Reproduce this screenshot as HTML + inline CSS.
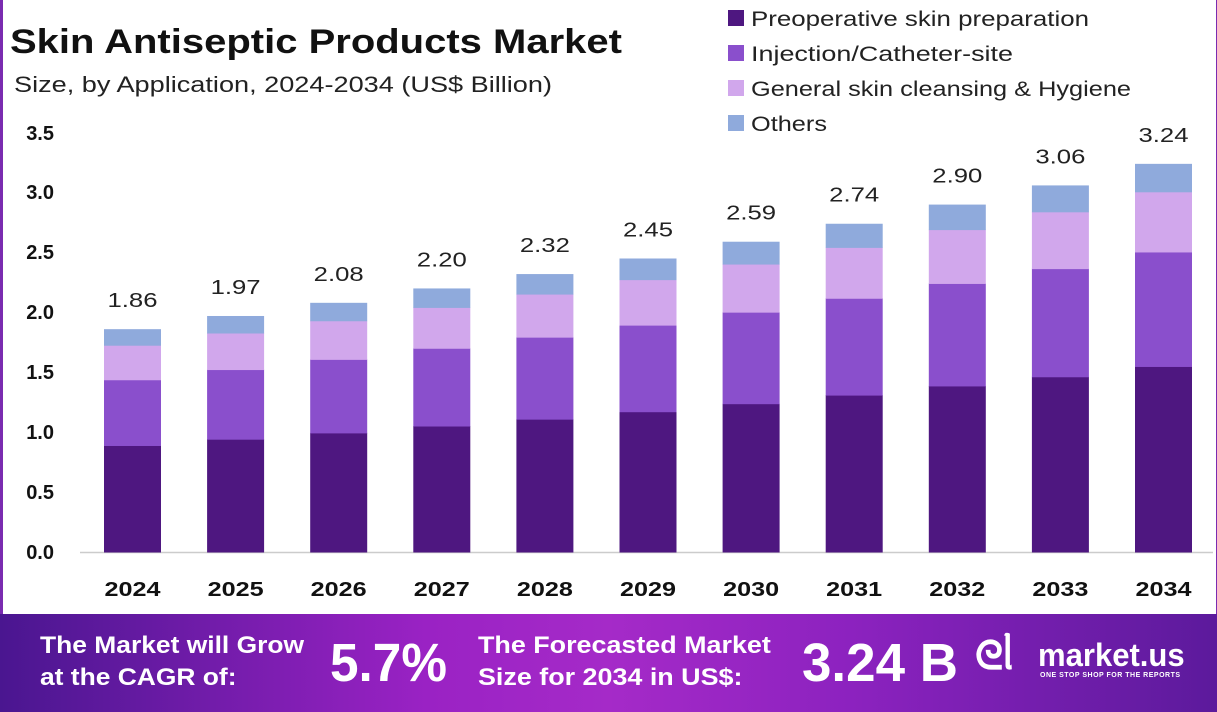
<!DOCTYPE html>
<html><head><style>
body{margin:0;width:1217px;height:712px;overflow:hidden;background:#fff;font-family:"Liberation Sans",sans-serif;}
#wrap{position:relative;width:1217px;height:712px;}
.frame{position:absolute;left:0;top:0;width:1213px;height:614px;border-left:3px solid #7a2bb0;border-right:2px solid #7a2bb0;}
.foot{position:absolute;left:0;top:614px;width:1217px;height:98px;background:linear-gradient(90deg,#4a1690 0%,#9a22c4 35%,#a52ac8 50%,#8c22bf 70%,#5c1a9c 100%);color:#fff;font-weight:bold;}
.foot div{position:absolute;white-space:nowrap;transform-origin:0 0;}
</style></head><body><div id="wrap">
<div class="frame"></div>
<svg width="1217" height="614" style="position:absolute;left:0;top:0" font-family="Liberation Sans, sans-serif">
<text x="10" y="53" font-size="34" font-weight="bold" fill="#111" textLength="612" lengthAdjust="spacingAndGlyphs">Skin Antiseptic Products Market</text>
<text x="14" y="92" font-size="22" fill="#222" textLength="538" lengthAdjust="spacingAndGlyphs">Size, by Application, 2024-2034 (US$ Billion)</text>
<g font-size="21" fill="#222">
<rect x="728" y="10" width="16" height="16" fill="#4e1780"/><text x="751" y="26" textLength="338" lengthAdjust="spacingAndGlyphs">Preoperative skin preparation</text>
<rect x="728" y="45" width="16" height="16" fill="#8a4fcc"/><text x="751" y="61" textLength="262" lengthAdjust="spacingAndGlyphs">Injection/Catheter-site</text>
<rect x="728" y="80" width="16" height="16" fill="#d1a7ec"/><text x="751" y="96" textLength="380" lengthAdjust="spacingAndGlyphs">General skin cleansing &amp; Hygiene</text>
<rect x="728" y="115" width="16" height="16" fill="#8faadc"/><text x="751" y="131" textLength="76" lengthAdjust="spacingAndGlyphs">Others</text>
</g>
<g font-size="20" font-weight="bold" fill="#111" text-anchor="end">
<text x="54" y="559">0.0</text><text x="54" y="499">0.5</text><text x="54" y="439">1.0</text><text x="54" y="379">1.5</text><text x="54" y="319">2.0</text><text x="54" y="259">2.5</text><text x="54" y="199">3.0</text><text x="54" y="140">3.5</text>
</g>
<line x1="80" y1="552.5" x2="1213" y2="552.5" stroke="#ccc" stroke-width="1.5"/>
<g id="bars"></g>
</svg>
<div class="foot">
<div style="left:40px;top:16px;font-size:24px;line-height:32px;transform:scaleX(1.1)">The Market will Grow<br>at the CAGR of:</div>
<div style="left:330px;top:18px;font-size:54px;line-height:62px;transform:scaleX(0.95)">5.7%</div>
<div style="left:478px;top:16px;font-size:24px;line-height:32px;transform:scaleX(1.12)">The Forecasted Market<br>Size for 2034 in US$:</div>
<div style="left:802px;top:18px;font-size:54px;line-height:62px;transform:scaleX(0.98)">3.24 B</div>
<div style="left:975px;top:22px;font-size:40px;line-height:40px">ᘓᥣ</div>
<div style="left:1038px;top:24px;font-size:32px;line-height:34px;transform:scaleX(0.97)">market.us</div>
<div style="left:1040px;top:58px;font-size:7px;letter-spacing:0.5px">ONE STOP SHOP FOR THE REPORTS</div>
</div>
</div>
<script>
var vals=[1.86,1.97,2.08,2.20,2.32,2.45,2.59,2.74,2.90,3.06,3.24];
var props=[0.478,0.295,0.155,0.072],cols=["#4e1780","#8a4fcc","#d1a7ec","#8faadc"];
var s="",k=119.8,base=552;
vals.forEach(function(v,i){var x=104+i*103.1,y=base;
props.forEach(function(p,j){var h=v*p*k;y-=h;s+='<rect x="'+x+'" y="'+y+'" width="57" height="'+(h+0.5)+'" fill="'+cols[j]+'"/>';});
s+='<text x="'+(x+28.5)+'" y="'+(y-22)+'" font-size="20" text-anchor="middle" fill="#222" textLength="50" lengthAdjust="spacingAndGlyphs">'+v.toFixed(2)+'</text>';
s+='<text x="'+(x+28.5)+'" y="596" font-size="20" font-weight="bold" text-anchor="middle" fill="#111" textLength="56" lengthAdjust="spacingAndGlyphs">'+(2024+i)+'</text>';});
document.getElementById("bars").innerHTML=s;
</script>
</body></html>
